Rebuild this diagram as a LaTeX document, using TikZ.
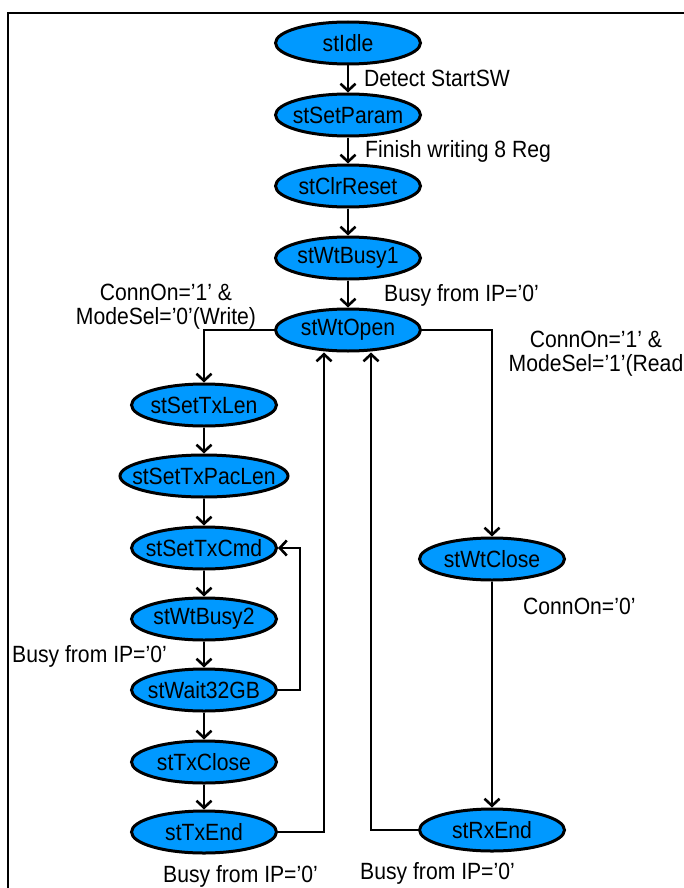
\documentclass[tikz,border=0pt]{standalone}
\usepackage{fontspec}
\setmainfont{Liberation Sans}[FakeStretch=0.9]
\usetikzlibrary{shapes.geometric,arrows.meta}
\definecolor{stfill}{RGB}{0,153,255}
\newcommand\stname[1]{\makebox[0pt]{#1}}
\begin{document}
\begin{tikzpicture}[x=1pt,y=-1pt,
  st/.style={ellipse,draw=black,line width=3pt,fill=stfill,minimum width=145pt,minimum height=42pt,inner sep=0pt,font=\fontsize{23.5}{25}\selectfont},
  tr/.style={line width=2.6pt,-{Straight Barb[length=7pt,width=15pt,line width=2.6pt]}},
  lbl/.style={font=\fontsize{23.5}{24}\selectfont,inner sep=0pt}]
\useasboundingbox (0,0) rectangle (684,888);
\draw[line width=2pt] (8,888) -- (8,13) -- (684,13);
\node[st] (idle) at (348,43) {\stname{stIdle}};
\node[st] (param) at (348,115) {\stname{stSetParam}};
\node[st] (clr) at (348,186) {\stname{stClrReset}};
\node[st] (wb1) at (348,258) {\stname{stWtBusy1}};
\node[st] (open) at (348,330) {\stname{stWtOpen}};
\node[st] (txlen) at (204,405) {\stname{stSetTxLen}};
\node[st,minimum width=168pt] (pac) at (204,476) {\stname{stSetTxPacLen}};
\node[st] (cmd) at (204,548) {\stname{stSetTxCmd}};
\node[st] (wb2) at (204,619) {\stname{stWtBusy2}};
\node[st] (w32) at (204,690) {\stname{stWait32GB}};
\node[st] (txc) at (204,762) {\stname{stTxClose}};
\node[st] (txe) at (204,832) {\stname{stTxEnd}};
\node[st] (wcl) at (492,559) {\stname{stWtClose}};
\node[st] (rxe) at (492,830) {\stname{stRxEnd}};
\draw[tr] (idle) -- (param);
\draw[tr] (param) -- (clr);
\draw[tr] (clr) -- (wb1);
\draw[tr] (wb1) -- (open);
\draw[tr] (open.west) -| (txlen.north);
\draw[tr] (open.east) -| (wcl.north);
\draw[tr] (txlen) -- (pac);
\draw[tr] (pac) -- (cmd);
\draw[tr] (cmd) -- (wb2);
\draw[tr] (wb2) -- (w32);
\draw[tr] (w32) -- (txc);
\draw[tr] (txc) -- (txe);
\draw[tr] (w32.east) -- (300,690) -- (300,548) -- (cmd.east);
\coordinate (c1) at (324,832);
\coordinate (c2) at (371,830);
\draw[tr] (txe.east) -- (c1) -- (open.south -| c1);
\draw[tr] (rxe.west) -- (c2) -- (open.south -| c2);
\draw[tr] (wcl) -- (rxe);
\node[lbl,anchor=west] (l1) at (364,78) {Detect StartSW};
\node[lbl,anchor=west] (l2) at (365,151) {Finish writing 8 Reg};
\node[lbl,anchor=west] (l3) at (384,295) {Busy from IP='0'};
\node[lbl,align=center] (l4) at (166,307) {ConnOn='1' \&\\ModeSel='0'(Write)};
\node[lbl,align=center] (l5) at (596,354) {ConnOn='1' \&\\ModeSel='1'(Read};
\node[lbl,anchor=west] (l6) at (523,606) {ConnOn='0'};
\node[lbl,anchor=west] (l7) at (12,656) {Busy from IP='0'};
\node[lbl,anchor=west] (l8) at (163,876) {Busy from IP='0'};
\node[lbl,anchor=west] (l9) at (360,873) {Busy from IP='0'};
\end{tikzpicture}
\end{document}
